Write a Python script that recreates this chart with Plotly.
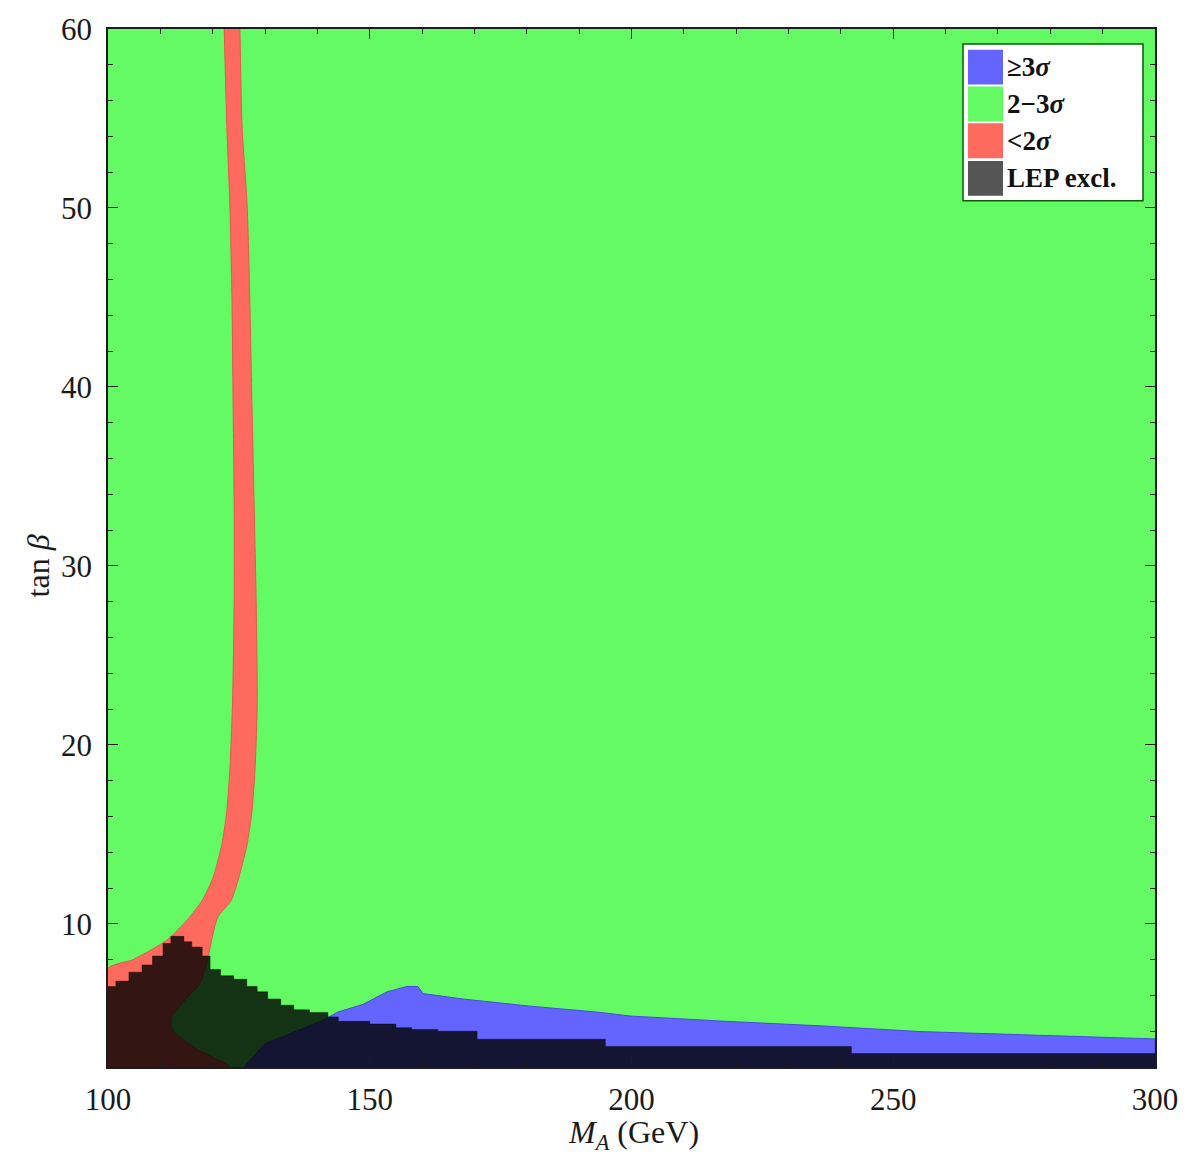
import plotly.graph_objects as go

# Scan domain (M_A in GeV, tan beta)
ma_range = [100, 300]
tb_range = [2, 60]

# Fit quality levels and their fill colours
levels = ["≥3σ", "2−3σ", "<2σ", "LEP excl."]
level_colors = ["#6464FF", "#64FA64", "#FF6A5E", "#555555"]

# <2σ region: outer (left) edge from top to bottom, then inner (right) edge back up
red_ma = [122.2, 122.7, 123.3, 123.7, 123.9, 124.1, 124.1, 123.8, 123.3, 122.7, 121.8,
          120.1, 118.0, 115.1, 111.3, 104.8, 100.0, 100.0,
          123.3, 117.0, 112.5, 112.0, 114.3, 117.6, 119.1, 120.1, 121.0, 123.5,
          125.2, 126.6, 127.1, 127.5, 128.1, 128.5, 128.3, 127.9, 127.5, 127.1,
          126.6, 125.6, 125.2]
red_tb = [60.0, 54.6, 50.0, 44.6, 39.0, 33.5, 28.0, 22.4, 18.7, 16.3, 14.5,
          12.6, 11.3, 10.2, 9.1, 8.0, 7.5, 2.0,
          2.0, 3.0, 4.0, 4.7, 5.6, 6.7, 8.1, 9.5, 10.4, 11.3,
          12.8, 14.5, 15.4, 16.3, 18.7, 22.4, 28.0, 33.5, 39.0, 44.6,
          50.0, 54.6, 60.0]

# ≥3σ region at low tan beta
blue_ma = [126.0, 130.0, 136.0, 141.0, 143.9, 148.7, 153.3, 157.1, 159.2, 160.2,
           167.8, 180.6, 193.4, 199.7, 216.9, 236.0, 255.1, 276.7, 300.0, 300.0]
blue_tb = [2.0, 3.3, 4.0, 4.6, 5.07, 5.5, 6.2, 6.5, 6.5, 6.1,
           5.8, 5.4, 5.07, 4.85, 4.57, 4.3, 3.98, 3.8, 3.57, 2.0]

# LEP exclusion: upper edge (step boundary)
lep_ma = [100.0, 101.5, 104.0, 106.5, 108.5, 110.5, 112.0, 114.5, 116.0, 118.0,
          119.5, 121.5, 124.0, 126.5, 128.5, 130.5, 133.0, 135.5, 138.5, 142.0,
          144.0, 150.0, 155.0, 158.0, 163.0, 170.5, 195.0, 242.0, 300.0]
lep_tb = [6.5, 6.8, 7.3, 7.7, 8.2, 8.9, 9.3, 9.0, 8.7, 8.2,
          7.45, 7.1, 6.9, 6.5, 6.2, 5.8, 5.45, 5.2, 5.05, 4.8,
          4.55, 4.4, 4.2, 4.1, 4.0, 3.55, 3.15, 2.75, 2.75]

SERIF = "Liberation Serif"

fig = go.Figure()

# 2-3σ covers the whole scanned plane
fig.add_trace(go.Scatter(
    x=[ma_range[0], ma_range[1], ma_range[1], ma_range[0]],
    y=[tb_range[0], tb_range[0], tb_range[1], tb_range[1]],
    fill="toself", fillcolor=level_colors[1], mode="lines",
    line=dict(width=0), hoverinfo="skip", showlegend=False))

fig.add_trace(go.Scatter(
    x=red_ma, y=red_tb, fill="toself", fillcolor=level_colors[2], mode="lines",
    line=dict(width=1, color="#E0584C", shape="spline", smoothing=0.6),
    hoverinfo="skip", showlegend=False))

fig.add_trace(go.Scatter(
    x=blue_ma, y=blue_tb, fill="toself", fillcolor=level_colors[0], mode="lines",
    line=dict(width=1, color="#4A4AE0"), hoverinfo="skip", showlegend=False))

fig.add_trace(go.Scatter(
    x=lep_ma, y=lep_tb, fill="tozeroy", fillcolor="rgba(0,0,0,0.8)", mode="lines",
    line=dict(width=0.5, color="rgba(0,0,0,0.8)", shape="hv"),
    hoverinfo="skip", showlegend=False))

axis_common = dict(
    showline=True, linecolor="#1c1c1c", linewidth=1.5, mirror="allticks",
    ticks="inside", ticklen=10, tickwidth=1.2, tickcolor="#1c1c1c",
    showgrid=False, zeroline=False,
    tickfont=dict(family=SERIF, size=31, color="#1a1a1a"),
)

fig.update_xaxes(range=ma_range, tickvals=[100, 150, 200, 250, 300],
                 minor=dict(dtick=10, ticks="inside", ticklen=5, tickcolor="#1c1c1c"),
                 ticklabelstandoff=4, **axis_common)
fig.update_yaxes(range=tb_range, tickvals=[10, 20, 30, 40, 50, 60],
                 minor=dict(dtick=2, tick0=0, ticks="inside", ticklen=5, tickcolor="#1c1c1c"),
                 ticklabelstandoff=8, **axis_common)

W, H = 1203, 1158
L, R, T, B = 108, 48, 22, 91
pw, ph = W - L - R, H - T - B


def px(xp):
    return (xp - L) / pw


def py(yp):
    return (H - B - yp) / ph


shapes = []
annotations = []

# legend frame
shapes.append(dict(type="rect", xref="paper", yref="paper",
                   x0=px(963), x1=px(1143), y0=py(195), y1=py(37),
                   fillcolor="white", line=dict(color="#0a5a0a", width=1.5)))
row_tops = [43, 80, 117, 155]
row_h = 35
legend_text = ["<b>≥3<i>σ</i></b>", "<b>2−3<i>σ</i></b>", "<b>&lt;2<i>σ</i></b>", "<b>LEP excl.</b>"]
for top, col, txt in zip(row_tops, level_colors, legend_text):
    shapes.append(dict(type="rect", xref="paper", yref="paper",
                       x0=px(968), x1=px(1003), y0=py(top + row_h), y1=py(top),
                       fillcolor=col, line=dict(width=0)))
    annotations.append(dict(xref="paper", yref="paper", x=px(1005), y=py(top + row_h / 2),
                            xanchor="left", yanchor="middle", showarrow=False,
                            text=txt, font=dict(family=SERIF, size=27, color="#111")))

# axis titles
annotations.append(dict(xref="paper", yref="paper", x=px(633), y=py(1135),
                        xanchor="center", yanchor="middle", showarrow=False,
                        text="<i>M</i><sub><i>A</i></sub> (GeV)",
                        font=dict(family=SERIF, size=32, color="#1a1a1a")))
annotations.append(dict(xref="paper", yref="paper", x=px(38), y=py(563),
                        xanchor="center", yanchor="middle", showarrow=False, textangle=-90,
                        text="tan <i>β</i>",
                        font=dict(family=SERIF, size=32, color="#1a1a1a")))

fig.update_layout(
    width=W, height=H,
    margin=dict(l=L, r=R, t=T, b=B),
    paper_bgcolor="white", plot_bgcolor=level_colors[1],
    shapes=shapes, annotations=annotations,
    showlegend=False,
)

fig.write_html("out.html")
